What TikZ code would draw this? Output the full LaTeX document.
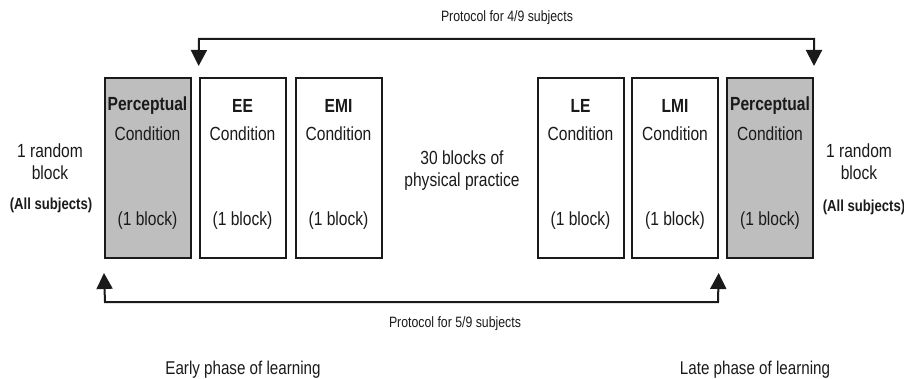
\documentclass[tikz,border=0pt]{standalone}
\usepackage{fontspec}
\setmainfont[FakeStretch=0.82]{Liberation Sans}
\usetikzlibrary{arrows.meta}
\definecolor{ink}{HTML}{1A1A1A}
\definecolor{boxgray}{HTML}{BEBEBE}
\tikzset{
  condbox/.style={draw=ink, line width=2pt, minimum width=86pt, minimum height=180pt, inner sep=0pt},
  graybox/.style={condbox, fill=boxgray},
  whitebox/.style={condbox, fill=white},
  big/.style={font=\fontsize{19}{22}\selectfont, text=ink, inner sep=0pt, align=center},
  bigb/.style={font=\fontsize{19}{22}\selectfont\bfseries, text=ink, inner sep=0pt},
  small/.style={font=\fontsize{15}{18}\selectfont, text=ink, inner sep=0pt},
  smallb/.style={font=\fontsize{16}{19}\selectfont\bfseries, text=ink, inner sep=0pt},
  phase/.style={font=\fontsize{18.5}{22}\selectfont, text=ink, inner sep=0pt},
  flow/.style={draw=ink, line width=2pt, {Triangle[width=16pt,length=16pt]}-{Triangle[width=16pt,length=16pt]}}
}
\begin{document}
\begin{tikzpicture}[x=1pt,y=-1pt]
\useasboundingbox (0,0) rectangle (904,379);
% boxes
\node[graybox]  (p1)  at (147.5,168) {};
\node[whitebox] (ee)  at (242.5,168) {};
\node[whitebox] (emi) at (338.5,168) {};
\node[whitebox] (le)  at (580.5,168) {};
\node[whitebox] (lmi) at (675,168) {};
\node[graybox]  (rp)  at (770,168) {};
% box texts
\foreach \n/\t in {p1/Perceptual, ee/EE, emi/EMI, le/LE, lmi/LMI, rp/Perceptual}{
  \node[bigb] (\n-t) at ([yshift=-29pt]\n.north) {\t};
  \node[big]  (\n-c) at ([yshift=-57pt]\n.north) {Condition};
  \node[big]  (\n-b) at ([yshift=-144pt]\n.north) {(1 block)};
}
% side texts
\node[big] (lr) at (50,162) {1 random\\block};
\node[smallb] (la) at (51,205) {(All subjects)};
\node[big] (rr) at (859,162) {1 random\\block};
\node[smallb] (ra) at (864,207) {(All subjects)};
\node[big] (mid) at (462,171) {30 blocks of\\physical practice};
% protocol arrows
\coordinate (t1) at (199,39);
\coordinate (t2) at (814,39);
\draw[flow, shorten <=11pt, shorten >=11pt] (ee.north west) -- (t1) -- (t2) -- (rp.north east);
\node[small] (top) at (507,18) {Protocol for 4/9 subjects};
\coordinate (b1) at (105,302);
\coordinate (b2) at (718,302);
\draw[flow, shorten <=14pt, shorten >=14pt] (p1.south west) -- (b1) -- (b2) -- (lmi.south east);
\node[small] (bot) at (455,324) {Protocol for 5/9 subjects};
% phases
\node[phase] (early) at (243,370) {Early phase of learning};
\node[phase] (late) at (755,370) {Late phase of learning};
\end{tikzpicture}
\end{document}
